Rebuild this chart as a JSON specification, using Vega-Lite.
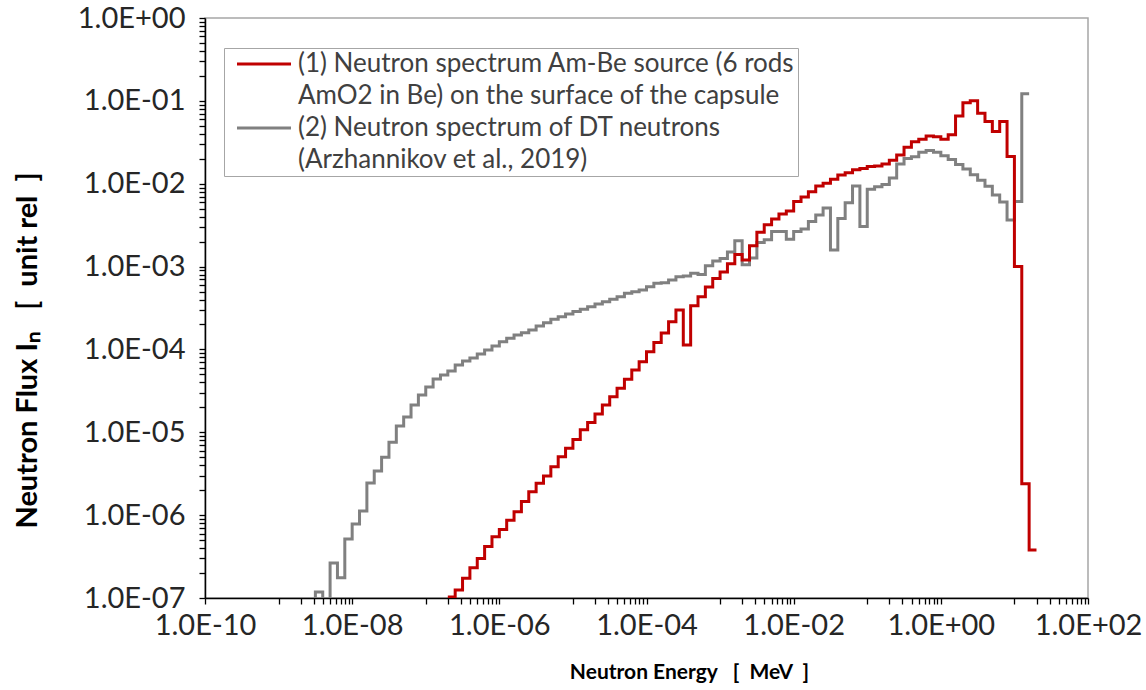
{
  "$schema": "https://vega.github.io/schema/vega-lite/v6.json",
  "width": 883,
  "height": 580,
  "autosize": {"type": "none"},
  "padding": {"left": 205, "top": 18, "right": 58, "bottom": 92},
  "background": "white",
  "config": {"view": {"stroke": "#a6a6a6", "strokeWidth": 1.5}, "font": "Lato"},
  "data": {"values": [
    {"series": "(2) Neutron spectrum of DT neutrons", "energy": 2.5119e-9, "flux": 3e-8},
    {"series": "(2) Neutron spectrum of DT neutrons", "energy": 3.1623e-9, "flux": 1.18e-7},
    {"series": "(2) Neutron spectrum of DT neutrons", "energy": 3.9811e-9, "flux": 3e-8},
    {"series": "(2) Neutron spectrum of DT neutrons", "energy": 5.0119e-9, "flux": 2.65e-7},
    {"series": "(2) Neutron spectrum of DT neutrons", "energy": 6.3096e-9, "flux": 1.75e-7},
    {"series": "(2) Neutron spectrum of DT neutrons", "energy": 7.9433e-9, "flux": 5.15e-7},
    {"series": "(2) Neutron spectrum of DT neutrons", "energy": 1e-8, "flux": 7.8e-7},
    {"series": "(2) Neutron spectrum of DT neutrons", "energy": 1.2589e-8, "flux": 1.12e-6},
    {"series": "(2) Neutron spectrum of DT neutrons", "energy": 1.5849e-8, "flux": 2.45e-6},
    {"series": "(2) Neutron spectrum of DT neutrons", "energy": 1.9953e-8, "flux": 3.4e-6},
    {"series": "(2) Neutron spectrum of DT neutrons", "energy": 2.5119e-8, "flux": 5.0e-6},
    {"series": "(2) Neutron spectrum of DT neutrons", "energy": 3.1623e-8, "flux": 7.6e-6},
    {"series": "(2) Neutron spectrum of DT neutrons", "energy": 3.9811e-8, "flux": 1.19e-5},
    {"series": "(2) Neutron spectrum of DT neutrons", "energy": 5.0119e-8, "flux": 1.53e-5},
    {"series": "(2) Neutron spectrum of DT neutrons", "energy": 6.3096e-8, "flux": 2.13e-5},
    {"series": "(2) Neutron spectrum of DT neutrons", "energy": 7.9433e-8, "flux": 2.82e-5},
    {"series": "(2) Neutron spectrum of DT neutrons", "energy": 1e-7, "flux": 3.52e-5},
    {"series": "(2) Neutron spectrum of DT neutrons", "energy": 1.2589e-7, "flux": 4.4e-5},
    {"series": "(2) Neutron spectrum of DT neutrons", "energy": 1.5849e-7, "flux": 4.9e-5},
    {"series": "(2) Neutron spectrum of DT neutrons", "energy": 1.9953e-7, "flux": 5.5e-5},
    {"series": "(2) Neutron spectrum of DT neutrons", "energy": 2.5119e-7, "flux": 6.5e-5},
    {"series": "(2) Neutron spectrum of DT neutrons", "energy": 3.1623e-7, "flux": 7.25e-5},
    {"series": "(2) Neutron spectrum of DT neutrons", "energy": 3.9811e-7, "flux": 7.9e-5},
    {"series": "(2) Neutron spectrum of DT neutrons", "energy": 5.0119e-7, "flux": 8.8e-5},
    {"series": "(2) Neutron spectrum of DT neutrons", "energy": 6.3096e-7, "flux": 9.85e-5},
    {"series": "(2) Neutron spectrum of DT neutrons", "energy": 7.9433e-7, "flux": 1.1e-4},
    {"series": "(2) Neutron spectrum of DT neutrons", "energy": 1e-6, "flux": 1.24e-4},
    {"series": "(2) Neutron spectrum of DT neutrons", "energy": 1.2589e-6, "flux": 1.36e-4},
    {"series": "(2) Neutron spectrum of DT neutrons", "energy": 1.5849e-6, "flux": 1.49e-4},
    {"series": "(2) Neutron spectrum of DT neutrons", "energy": 1.9953e-6, "flux": 1.59e-4},
    {"series": "(2) Neutron spectrum of DT neutrons", "energy": 2.5119e-6, "flux": 1.72e-4},
    {"series": "(2) Neutron spectrum of DT neutrons", "energy": 3.1623e-6, "flux": 1.92e-4},
    {"series": "(2) Neutron spectrum of DT neutrons", "energy": 3.9811e-6, "flux": 2.1e-4},
    {"series": "(2) Neutron spectrum of DT neutrons", "energy": 5.0119e-6, "flux": 2.31e-4},
    {"series": "(2) Neutron spectrum of DT neutrons", "energy": 6.3096e-6, "flux": 2.48e-4},
    {"series": "(2) Neutron spectrum of DT neutrons", "energy": 7.9433e-6, "flux": 2.68e-4},
    {"series": "(2) Neutron spectrum of DT neutrons", "energy": 1e-5, "flux": 2.86e-4},
    {"series": "(2) Neutron spectrum of DT neutrons", "energy": 1.2589e-5, "flux": 3.05e-4},
    {"series": "(2) Neutron spectrum of DT neutrons", "energy": 1.5849e-5, "flux": 3.28e-4},
    {"series": "(2) Neutron spectrum of DT neutrons", "energy": 1.9953e-5, "flux": 3.53e-4},
    {"series": "(2) Neutron spectrum of DT neutrons", "energy": 2.5119e-5, "flux": 3.77e-4},
    {"series": "(2) Neutron spectrum of DT neutrons", "energy": 3.1623e-5, "flux": 4.02e-4},
    {"series": "(2) Neutron spectrum of DT neutrons", "energy": 3.9811e-5, "flux": 4.33e-4},
    {"series": "(2) Neutron spectrum of DT neutrons", "energy": 5.0119e-5, "flux": 4.75e-4},
    {"series": "(2) Neutron spectrum of DT neutrons", "energy": 6.3096e-5, "flux": 4.98e-4},
    {"series": "(2) Neutron spectrum of DT neutrons", "energy": 7.9433e-5, "flux": 5.2e-4},
    {"series": "(2) Neutron spectrum of DT neutrons", "energy": 1e-4, "flux": 5.7e-4},
    {"series": "(2) Neutron spectrum of DT neutrons", "energy": 1.2589e-4, "flux": 6.3e-4},
    {"series": "(2) Neutron spectrum of DT neutrons", "energy": 1.5849e-4, "flux": 6.4e-4},
    {"series": "(2) Neutron spectrum of DT neutrons", "energy": 1.9953e-4, "flux": 6.9e-4},
    {"series": "(2) Neutron spectrum of DT neutrons", "energy": 2.5119e-4, "flux": 7.55e-4},
    {"series": "(2) Neutron spectrum of DT neutrons", "energy": 3.1623e-4, "flux": 7.7e-4},
    {"series": "(2) Neutron spectrum of DT neutrons", "energy": 3.9811e-4, "flux": 8.3e-4},
    {"series": "(2) Neutron spectrum of DT neutrons", "energy": 5.0119e-4, "flux": 8.0e-4},
    {"series": "(2) Neutron spectrum of DT neutrons", "energy": 6.3096e-4, "flux": 1.02e-3},
    {"series": "(2) Neutron spectrum of DT neutrons", "energy": 7.9433e-4, "flux": 1.17e-3},
    {"series": "(2) Neutron spectrum of DT neutrons", "energy": 1e-3, "flux": 1.25e-3},
    {"series": "(2) Neutron spectrum of DT neutrons", "energy": 1.2589e-3, "flux": 1.5e-3},
    {"series": "(2) Neutron spectrum of DT neutrons", "energy": 1.5849e-3, "flux": 2.05e-3},
    {"series": "(2) Neutron spectrum of DT neutrons", "energy": 1.9953e-3, "flux": 1.05e-3},
    {"series": "(2) Neutron spectrum of DT neutrons", "energy": 2.5119e-3, "flux": 1.27e-3},
    {"series": "(2) Neutron spectrum of DT neutrons", "energy": 3.1623e-3, "flux": 1.95e-3},
    {"series": "(2) Neutron spectrum of DT neutrons", "energy": 3.9811e-3, "flux": 2.1e-3},
    {"series": "(2) Neutron spectrum of DT neutrons", "energy": 5.0119e-3, "flux": 2.65e-3},
    {"series": "(2) Neutron spectrum of DT neutrons", "energy": 6.3096e-3, "flux": 2.65e-3},
    {"series": "(2) Neutron spectrum of DT neutrons", "energy": 7.9433e-3, "flux": 2.14e-3},
    {"series": "(2) Neutron spectrum of DT neutrons", "energy": 1e-2, "flux": 2.65e-3},
    {"series": "(2) Neutron spectrum of DT neutrons", "energy": 1.2589e-2, "flux": 2.85e-3},
    {"series": "(2) Neutron spectrum of DT neutrons", "energy": 1.5849e-2, "flux": 3.5e-3},
    {"series": "(2) Neutron spectrum of DT neutrons", "energy": 1.9953e-2, "flux": 4.2e-3},
    {"series": "(2) Neutron spectrum of DT neutrons", "energy": 2.5119e-2, "flux": 5.1e-3},
    {"series": "(2) Neutron spectrum of DT neutrons", "energy": 3.1623e-2, "flux": 1.58e-3},
    {"series": "(2) Neutron spectrum of DT neutrons", "energy": 3.9811e-2, "flux": 3.8e-3},
    {"series": "(2) Neutron spectrum of DT neutrons", "energy": 5.0119e-2, "flux": 5.9e-3},
    {"series": "(2) Neutron spectrum of DT neutrons", "energy": 6.3096e-2, "flux": 9.4e-3},
    {"series": "(2) Neutron spectrum of DT neutrons", "energy": 7.9433e-2, "flux": 3.05e-3},
    {"series": "(2) Neutron spectrum of DT neutrons", "energy": 0.1, "flux": 8.6e-3},
    {"series": "(2) Neutron spectrum of DT neutrons", "energy": 0.12589, "flux": 9.2e-3},
    {"series": "(2) Neutron spectrum of DT neutrons", "energy": 0.15849, "flux": 9.8e-3},
    {"series": "(2) Neutron spectrum of DT neutrons", "energy": 0.19953, "flux": 0.0117},
    {"series": "(2) Neutron spectrum of DT neutrons", "energy": 0.25119, "flux": 0.0173},
    {"series": "(2) Neutron spectrum of DT neutrons", "energy": 0.31623, "flux": 0.0202},
    {"series": "(2) Neutron spectrum of DT neutrons", "energy": 0.39811, "flux": 0.0212},
    {"series": "(2) Neutron spectrum of DT neutrons", "energy": 0.50119, "flux": 0.0239},
    {"series": "(2) Neutron spectrum of DT neutrons", "energy": 0.63096, "flux": 0.0251},
    {"series": "(2) Neutron spectrum of DT neutrons", "energy": 0.79433, "flux": 0.024},
    {"series": "(2) Neutron spectrum of DT neutrons", "energy": 1, "flux": 0.0218},
    {"series": "(2) Neutron spectrum of DT neutrons", "energy": 1.2589, "flux": 0.0196},
    {"series": "(2) Neutron spectrum of DT neutrons", "energy": 1.5849, "flux": 0.0171},
    {"series": "(2) Neutron spectrum of DT neutrons", "energy": 1.9953, "flux": 0.015},
    {"series": "(2) Neutron spectrum of DT neutrons", "energy": 2.5119, "flux": 0.0128},
    {"series": "(2) Neutron spectrum of DT neutrons", "energy": 3.1623, "flux": 0.011},
    {"series": "(2) Neutron spectrum of DT neutrons", "energy": 3.9811, "flux": 9.3e-3},
    {"series": "(2) Neutron spectrum of DT neutrons", "energy": 5.0119, "flux": 7.3e-3},
    {"series": "(2) Neutron spectrum of DT neutrons", "energy": 6.3096, "flux": 6.0e-3},
    {"series": "(2) Neutron spectrum of DT neutrons", "energy": 7.9433, "flux": 3.66e-3},
    {"series": "(2) Neutron spectrum of DT neutrons", "energy": 10, "flux": 6.1e-3},
    {"series": "(2) Neutron spectrum of DT neutrons", "energy": 12.589, "flux": 0.122},
    {"series": "(2) Neutron spectrum of DT neutrons", "energy": 15.849, "flux": 0.122},
    {"series": "(1) Neutron spectrum Am-Be source (6 rods", "energy": 1.9953e-7, "flux": 1.03e-7},
    {"series": "(1) Neutron spectrum Am-Be source (6 rods", "energy": 2.5119e-7, "flux": 1.25e-7},
    {"series": "(1) Neutron spectrum Am-Be source (6 rods", "energy": 3.1623e-7, "flux": 1.73e-7},
    {"series": "(1) Neutron spectrum Am-Be source (6 rods", "energy": 3.9811e-7, "flux": 2.32e-7},
    {"series": "(1) Neutron spectrum Am-Be source (6 rods", "energy": 5.0119e-7, "flux": 3.0e-7},
    {"series": "(1) Neutron spectrum Am-Be source (6 rods", "energy": 6.3096e-7, "flux": 4.17e-7},
    {"series": "(1) Neutron spectrum Am-Be source (6 rods", "energy": 7.9433e-7, "flux": 5.5e-7},
    {"series": "(1) Neutron spectrum Am-Be source (6 rods", "energy": 1e-6, "flux": 6.7e-7},
    {"series": "(1) Neutron spectrum Am-Be source (6 rods", "energy": 1.2589e-6, "flux": 8.7e-7},
    {"series": "(1) Neutron spectrum Am-Be source (6 rods", "energy": 1.5849e-6, "flux": 1.10e-6},
    {"series": "(1) Neutron spectrum Am-Be source (6 rods", "energy": 1.9953e-6, "flux": 1.46e-6},
    {"series": "(1) Neutron spectrum Am-Be source (6 rods", "energy": 2.5119e-6, "flux": 1.92e-6},
    {"series": "(1) Neutron spectrum Am-Be source (6 rods", "energy": 3.1623e-6, "flux": 2.42e-6},
    {"series": "(1) Neutron spectrum Am-Be source (6 rods", "energy": 3.9811e-6, "flux": 2.97e-6},
    {"series": "(1) Neutron spectrum Am-Be source (6 rods", "energy": 5.0119e-6, "flux": 3.85e-6},
    {"series": "(1) Neutron spectrum Am-Be source (6 rods", "energy": 6.3096e-6, "flux": 5.08e-6},
    {"series": "(1) Neutron spectrum Am-Be source (6 rods", "energy": 7.9433e-6, "flux": 6.4e-6},
    {"series": "(1) Neutron spectrum Am-Be source (6 rods", "energy": 1e-5, "flux": 8.2e-6},
    {"series": "(1) Neutron spectrum Am-Be source (6 rods", "energy": 1.2589e-5, "flux": 1.07e-5},
    {"series": "(1) Neutron spectrum Am-Be source (6 rods", "energy": 1.5849e-5, "flux": 1.31e-5},
    {"series": "(1) Neutron spectrum Am-Be source (6 rods", "energy": 1.9953e-5, "flux": 1.66e-5},
    {"series": "(1) Neutron spectrum Am-Be source (6 rods", "energy": 2.5119e-5, "flux": 2.13e-5},
    {"series": "(1) Neutron spectrum Am-Be source (6 rods", "energy": 3.1623e-5, "flux": 2.69e-5},
    {"series": "(1) Neutron spectrum Am-Be source (6 rods", "energy": 3.9811e-5, "flux": 3.4e-5},
    {"series": "(1) Neutron spectrum Am-Be source (6 rods", "energy": 5.0119e-5, "flux": 4.36e-5},
    {"series": "(1) Neutron spectrum Am-Be source (6 rods", "energy": 6.3096e-5, "flux": 5.65e-5},
    {"series": "(1) Neutron spectrum Am-Be source (6 rods", "energy": 7.9433e-5, "flux": 7.1e-5},
    {"series": "(1) Neutron spectrum Am-Be source (6 rods", "energy": 1e-4, "flux": 9.4e-5},
    {"series": "(1) Neutron spectrum Am-Be source (6 rods", "energy": 1.2589e-4, "flux": 1.21e-4},
    {"series": "(1) Neutron spectrum Am-Be source (6 rods", "energy": 1.5849e-4, "flux": 1.58e-4},
    {"series": "(1) Neutron spectrum Am-Be source (6 rods", "energy": 1.9953e-4, "flux": 2.16e-4},
    {"series": "(1) Neutron spectrum Am-Be source (6 rods", "energy": 2.5119e-4, "flux": 3.0e-4},
    {"series": "(1) Neutron spectrum Am-Be source (6 rods", "energy": 3.1623e-4, "flux": 1.13e-4},
    {"series": "(1) Neutron spectrum Am-Be source (6 rods", "energy": 3.9811e-4, "flux": 3.37e-4},
    {"series": "(1) Neutron spectrum Am-Be source (6 rods", "energy": 5.0119e-4, "flux": 4.33e-4},
    {"series": "(1) Neutron spectrum Am-Be source (6 rods", "energy": 6.3096e-4, "flux": 5.65e-4},
    {"series": "(1) Neutron spectrum Am-Be source (6 rods", "energy": 7.9433e-4, "flux": 7.2e-4},
    {"series": "(1) Neutron spectrum Am-Be source (6 rods", "energy": 1e-3, "flux": 8.6e-4},
    {"series": "(1) Neutron spectrum Am-Be source (6 rods", "energy": 1.2589e-3, "flux": 1.08e-3},
    {"series": "(1) Neutron spectrum Am-Be source (6 rods", "energy": 1.5849e-3, "flux": 1.4e-3},
    {"series": "(1) Neutron spectrum Am-Be source (6 rods", "energy": 1.9953e-3, "flux": 1.2e-3},
    {"series": "(1) Neutron spectrum Am-Be source (6 rods", "energy": 2.5119e-3, "flux": 1.78e-3},
    {"series": "(1) Neutron spectrum Am-Be source (6 rods", "energy": 3.1623e-3, "flux": 2.6e-3},
    {"series": "(1) Neutron spectrum Am-Be source (6 rods", "energy": 3.9811e-3, "flux": 3.2e-3},
    {"series": "(1) Neutron spectrum Am-Be source (6 rods", "energy": 5.0119e-3, "flux": 3.75e-3},
    {"series": "(1) Neutron spectrum Am-Be source (6 rods", "energy": 6.3096e-3, "flux": 4.3e-3},
    {"series": "(1) Neutron spectrum Am-Be source (6 rods", "energy": 7.9433e-3, "flux": 4.7e-3},
    {"series": "(1) Neutron spectrum Am-Be source (6 rods", "energy": 1e-2, "flux": 6.1e-3},
    {"series": "(1) Neutron spectrum Am-Be source (6 rods", "energy": 1.2589e-2, "flux": 6.9e-3},
    {"series": "(1) Neutron spectrum Am-Be source (6 rods", "energy": 1.5849e-2, "flux": 8.0e-3},
    {"series": "(1) Neutron spectrum Am-Be source (6 rods", "energy": 1.9953e-2, "flux": 9.4e-3},
    {"series": "(1) Neutron spectrum Am-Be source (6 rods", "energy": 2.5119e-2, "flux": 0.0101},
    {"series": "(1) Neutron spectrum Am-Be source (6 rods", "energy": 3.1623e-2, "flux": 0.0113},
    {"series": "(1) Neutron spectrum Am-Be source (6 rods", "energy": 3.9811e-2, "flux": 0.0127},
    {"series": "(1) Neutron spectrum Am-Be source (6 rods", "energy": 5.0119e-2, "flux": 0.0136},
    {"series": "(1) Neutron spectrum Am-Be source (6 rods", "energy": 6.3096e-2, "flux": 0.0147},
    {"series": "(1) Neutron spectrum Am-Be source (6 rods", "energy": 7.9433e-2, "flux": 0.0153},
    {"series": "(1) Neutron spectrum Am-Be source (6 rods", "energy": 0.1, "flux": 0.0161},
    {"series": "(1) Neutron spectrum Am-Be source (6 rods", "energy": 0.12589, "flux": 0.0164},
    {"series": "(1) Neutron spectrum Am-Be source (6 rods", "energy": 0.15849, "flux": 0.0173},
    {"series": "(1) Neutron spectrum Am-Be source (6 rods", "energy": 0.19953, "flux": 0.0192},
    {"series": "(1) Neutron spectrum Am-Be source (6 rods", "energy": 0.25119, "flux": 0.0222},
    {"series": "(1) Neutron spectrum Am-Be source (6 rods", "energy": 0.31623, "flux": 0.0275},
    {"series": "(1) Neutron spectrum Am-Be source (6 rods", "energy": 0.39811, "flux": 0.0321},
    {"series": "(1) Neutron spectrum Am-Be source (6 rods", "energy": 0.50119, "flux": 0.0343},
    {"series": "(1) Neutron spectrum Am-Be source (6 rods", "energy": 0.63096, "flux": 0.0377},
    {"series": "(1) Neutron spectrum Am-Be source (6 rods", "energy": 0.79433, "flux": 0.037},
    {"series": "(1) Neutron spectrum Am-Be source (6 rods", "energy": 1, "flux": 0.0344},
    {"series": "(1) Neutron spectrum Am-Be source (6 rods", "energy": 1.2589, "flux": 0.039},
    {"series": "(1) Neutron spectrum Am-Be source (6 rods", "energy": 1.5849, "flux": 0.0656},
    {"series": "(1) Neutron spectrum Am-Be source (6 rods", "energy": 1.9953, "flux": 0.095},
    {"series": "(1) Neutron spectrum Am-Be source (6 rods", "energy": 2.5119, "flux": 0.1005},
    {"series": "(1) Neutron spectrum Am-Be source (6 rods", "energy": 3.1623, "flux": 0.0708},
    {"series": "(1) Neutron spectrum Am-Be source (6 rods", "energy": 3.9811, "flux": 0.0562},
    {"series": "(1) Neutron spectrum Am-Be source (6 rods", "energy": 5.0119, "flux": 0.0426},
    {"series": "(1) Neutron spectrum Am-Be source (6 rods", "energy": 6.3096, "flux": 0.0562},
    {"series": "(1) Neutron spectrum Am-Be source (6 rods", "energy": 7.9433, "flux": 0.0213},
    {"series": "(1) Neutron spectrum Am-Be source (6 rods", "energy": 10, "flux": 1.0e-3},
    {"series": "(1) Neutron spectrum Am-Be source (6 rods", "energy": 12.589, "flux": 2.4e-6},
    {"series": "(1) Neutron spectrum Am-Be source (6 rods", "energy": 15.849, "flux": 3.8e-7},
    {"series": "(1) Neutron spectrum Am-Be source (6 rods", "energy": 19.953, "flux": 3.8e-7}
  ]},
  "mark": {"type": "line", "interpolate": "step-after", "strokeWidth": 3, "clip": true, "strokeJoin": "miter", "strokeCap": "butt"},
  "encoding": {
    "x": {
      "field": "energy", "type": "quantitative",
      "scale": {"type": "log", "domain": [1e-10, 100], "nice": false},
      "axis": {
        "values": [1e-10, 1e-9, 2e-9, 3e-9, 4e-9, 5e-9, 6e-9, 7e-9, 8e-9, 9e-9, 1e-8, 1e-7, 2e-7, 3e-7, 4e-7, 5e-7, 6e-7, 7e-7, 8e-7, 9e-7, 1e-6, 1e-5, 2e-5, 3e-5, 4e-5, 5e-5, 6e-5, 7e-5, 8e-5, 9e-5, 1e-4, 1e-3, 2e-3, 3e-3, 4e-3, 5e-3, 6e-3, 7e-3, 8e-3, 9e-3, 1e-2, 0.1, 0.2, 0.3, 0.4, 0.5, 0.6, 0.7, 0.8, 0.9, 1, 10, 20, 30, 40, 50, 60, 70, 80, 90, 100],
        "labelExpr": "abs(log(datum.value)/LN10 - round(log(datum.value)/LN10)) < 1e-6 && round(log(datum.value)/LN10) % 2 == 0 ? '1.0E' + (round(log(datum.value)/LN10) < 0 ? '-' : '+') + (abs(round(log(datum.value)/LN10)) < 10 ? '0' : '') + abs(round(log(datum.value)/LN10)) : ''",
        "grid": false,
        "domainColor": "#000000", "domainWidth": 1.5,
        "tickColor": "#000000", "tickWidth": 1.3, "tickSize": 6,
        "labelFont": "Lato", "labelFontSize": 29, "labelColor": "#262626", "labelPadding": 7,
        "labelOverlap": false, "labelFlush": false, "labelBound": false,
        "title": "Neutron Energy\u00a0\u00a0\u00a0[\u00a0\u00a0MeV\u00a0\u00a0]",
        "titleFont": "Lato", "titleFontSize": 21, "titleFontWeight": "bold", "titleColor": "#000000",
        "titleX": 484, "titleY": 74, "titleBaseline": "middle", "titleAlign": "center"
      }
    },
    "y": {
      "field": "flux", "type": "quantitative",
      "scale": {"type": "log", "domain": [1e-7, 1], "nice": false},
      "axis": {
        "values": [1e-7, 2e-7, 3e-7, 4e-7, 5e-7, 6e-7, 7e-7, 8e-7, 9e-7, 1e-6, 2e-6, 3e-6, 4e-6, 5e-6, 6e-6, 7e-6, 8e-6, 9e-6, 1e-5, 2e-5, 3e-5, 4e-5, 5e-5, 6e-5, 7e-5, 8e-5, 9e-5, 1e-4, 2e-4, 3e-4, 4e-4, 5e-4, 6e-4, 7e-4, 8e-4, 9e-4, 1e-3, 2e-3, 3e-3, 4e-3, 5e-3, 6e-3, 7e-3, 8e-3, 9e-3, 1e-2, 2e-2, 3e-2, 4e-2, 5e-2, 6e-2, 7e-2, 8e-2, 9e-2, 0.1, 0.2, 0.3, 0.4, 0.5, 0.6, 0.7, 0.8, 0.9, 1],
        "labelExpr": "abs(log(datum.value)/LN10 - round(log(datum.value)/LN10)) < 1e-6 ? '1.0E' + (round(log(datum.value)/LN10) < 0 ? '-' : '+') + (abs(round(log(datum.value)/LN10)) < 10 ? '0' : '') + abs(round(log(datum.value)/LN10)) : ''",
        "grid": false,
        "domainColor": "#000000", "domainWidth": 1.5,
        "tickColor": "#000000", "tickWidth": 1.3, "tickSize": 6,
        "labelFont": "Lato", "labelFontSize": 29, "labelColor": "#262626", "labelPadding": 14,
        "labelOverlap": false, "labelFlush": false, "labelBound": false,
        "title": "Neutron Flux I\u2099\u00a0\u00a0\u00a0[\u00a0\u00a0unit rel\u00a0\u00a0]",
        "titleFont": "Lato", "titleFontSize": 29, "titleFontWeight": "bold", "titleColor": "#000000",
        "titleX": -178, "titleY": 332, "titleAngle": 270, "titleBaseline": "middle", "titleAlign": "center"
      }
    },
    "color": {
      "field": "series", "type": "nominal",
      "scale": {
        "domain": ["(1) Neutron spectrum Am-Be source (6 rods", "AmO2 in Be) on the surface of the capsule", "(2) Neutron spectrum of DT neutrons", "(Arzhannikov et al., 2019)"],
        "range": ["#C00000", "rgba(0,0,0,0)", "#808080", "rgba(0,0,0,0)"]
      },
      "legend": {
        "orient": "none", "legendX": 19, "legendY": 30, "title": null,
        "symbolType": "M-2.7,0H2.7", "symbolSize": 400, "symbolStrokeWidth": 3,
        "labelFont": "Lato", "labelFontSize": 26, "labelColor": "#404040", "labelLimit": 1000,
        "strokeColor": "#a6a6a6", "fillColor": "white", "padding": 3, "rowPadding": 6,
        "labelOffset": 21, "symbolOffset": 24
      }
    }
  }
}
